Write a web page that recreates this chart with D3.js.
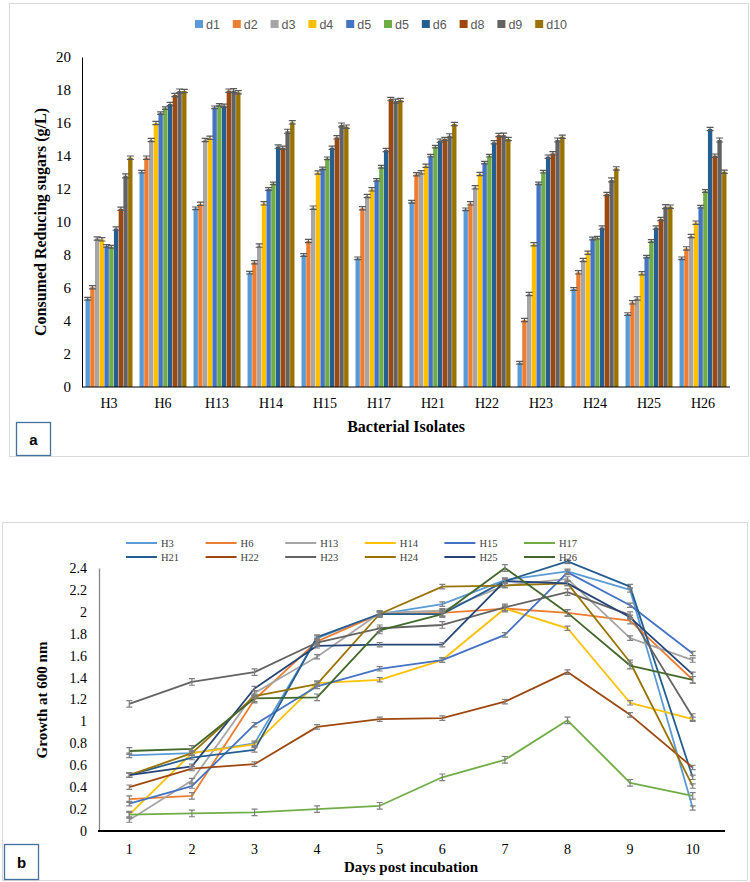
<!DOCTYPE html>
<html><head><meta charset="utf-8">
<script src="https://cdn.jsdelivr.net/npm/d3@7"></script>
<style>body{margin:0;background:#fff}svg{display:block}</style>
</head><body><svg id="c" width="750" height="882"></svg>
<script>
// ---------- Panel a data ----------
const isolatesA = ["H3","H6","H13","H14","H15","H17","H21","H22","H23","H24","H25","H26"];
const seriesNamesA = ["d1","d2","d3","d4","d5","d5","d6","d8","d9","d10"];
const seriesColorsA = ["#5B9BD5","#ED7D31","#A5A5A5","#FFC000","#4472C4","#70AD47","#255E91","#9E480E","#636363","#997300"];
const d1Vals  = [5.35,13.05,10.83,6.93,8.0,7.8,11.23,10.77,1.47,5.94,4.42,7.8];
const d2Vals  = [6.05,13.9,11.1,7.56,8.85,10.83,12.89,11.13,4.06,6.95,5.13,8.4];
const d3Vals  = [9.0,14.97,14.97,8.57,10.87,11.58,13.01,12.1,5.64,7.7,5.37,9.15];
const d4Vals  = [8.95,16.0,15.1,11.13,13.0,11.98,13.41,12.91,8.65,8.14,6.89,9.96];
const d5aVals = [8.55,16.6,16.95,12.0,13.25,12.55,14.02,13.6,12.34,9.0,7.9,10.93];
const d5bVals = [8.5,16.9,17.1,12.34,13.86,13.35,14.57,14.02,13.05,9.05,8.85,11.88];
const d6Vals  = [9.6,17.15,17.05,14.57,14.5,14.36,14.93,14.83,13.96,9.66,9.66,15.64];
const d8Vals  = [10.8,17.7,17.96,14.5,15.13,17.45,15.03,15.27,14.16,11.7,10.18,14.02];
const d9Vals  = [12.8,17.94,17.96,15.5,15.88,17.33,15.23,15.27,14.97,12.55,10.93,14.97];
const d10Vals = [13.9,17.94,17.86,16.04,15.78,17.39,15.94,15.03,15.17,13.25,10.93,13.05];
const errA = [0.08,0.1,0.1,0.1,0.08,0.08,0.1,0.1,0.12,0.1];
const yTicksA = [0,2,4,6,8,10,12,14,16,18,20];

// ---------- Panel b data ----------
const days = [1,2,3,4,5,6,7,8,9,10];
const isolatesB = ["H3","H6","H13","H14","H15","H17","H21","H22","H23","H24","H25","H26"];
const lineColorsB = ["#5B9BD5","#ED7D31","#A5A5A5","#FFC000","#4472C4","#70AD47","#255E91","#9E480E","#636363","#997300","#264478","#43682B"];
const gH3  = [0.69,0.71,0.80,1.76,1.98,2.07,2.29,2.37,2.20,0.21];
const gH6  = [0.29,0.32,1.20,1.73,1.98,1.99,2.03,1.99,1.92,1.38];
const gH13 = [0.10,0.46,1.26,1.59,1.99,2.01,2.24,2.30,1.76,1.56];
const gH14 = [0.15,0.71,0.79,1.35,1.38,1.56,2.03,1.85,1.17,1.02];
const gH15 = [0.25,0.41,0.97,1.32,1.48,1.56,1.79,2.36,2.06,1.62];
const gH17 = [0.15,0.16,0.17,0.20,0.23,0.49,0.65,1.01,0.44,0.32];
const gH21 = [0.51,0.67,0.74,1.77,1.98,1.98,2.28,2.46,2.23,0.49];
const gH22 = [0.40,0.57,0.61,0.95,1.02,1.03,1.18,1.45,1.06,0.58];
const gH23 = [1.16,1.36,1.45,1.72,1.85,1.88,2.04,2.18,1.97,1.04];
const gH24 = [0.51,0.71,1.23,1.34,1.98,2.23,2.24,2.26,1.54,0.41];
const gH25 = [0.51,0.59,1.30,1.69,1.70,1.70,2.28,2.26,1.95,1.43];
const gH26 = [0.73,0.75,1.21,1.22,1.83,1.98,2.40,1.99,1.51,1.38];
const errB = [0.02,0.03,0.02,0.02,0.02,0.03,0.02,0.02,0.03,0.02,0.02,0.03];
const yTicksB = [0,0.2,0.4,0.6,0.8,1,1.2,1.4,1.6,1.8,2,2.2,2.4];

const svg = d3.select("#c");
const serif = "Liberation Serif, Times New Roman, serif";
const sans = "Liberation Sans, Arial, sans-serif";

// ================= PANEL A =================
svg.append("rect").attr("x",9.5).attr("y",3.5).attr("width",739).attr("height",453)
  .attr("fill","#fff").attr("stroke","#d9d9d9");

const seriesA = [d1Vals,d2Vals,d3Vals,d4Vals,d5aVals,d5bVals,d6Vals,d8Vals,d9Vals,d10Vals];
const x0 = d3.scaleBand().domain(isolatesA).range([82,730]).paddingInner(0.13).paddingOuter(0.065);
const x1 = d3.scaleBand().domain(d3.range(seriesA.length)).range([0,x0.bandwidth()]).paddingInner(0.08);
const yA = d3.scaleLinear().domain([0,20]).range([387,57]);

const gA = svg.append("g");
seriesA.forEach((vals,si)=>{
  const g = gA.append("g");
  g.selectAll("rect").data(vals).join("rect")
    .attr("x",(v,i)=>x0(isolatesA[i])+x1(si))
    .attr("y",v=>yA(v)).attr("width",x1.bandwidth())
    .attr("height",v=>yA(0)-yA(v)).attr("fill",seriesColorsA[si]);
});
seriesA.forEach((vals,si)=>{
  const e = errA[si];
  vals.forEach((v,i)=>{
    const cx = x0(isolatesA[i])+x1(si)+x1.bandwidth()/2;
    const p = d3.path();
    p.moveTo(cx,yA(v+e)); p.lineTo(cx,yA(v-e));
    p.moveTo(cx-3.5,yA(v+e)); p.lineTo(cx+3.5,yA(v+e));
    p.moveTo(cx-3.5,yA(v-e)); p.lineTo(cx+3.5,yA(v-e));
    gA.append("path").attr("d",p.toString()).attr("stroke","#595959").attr("stroke-width",1.2).attr("fill","none");
  });
});

const axYA = d3.axisLeft(yA).tickValues(yTicksA).tickSize(0).tickPadding(11).tickFormat(d3.format("d"));
const gyA = svg.append("g").attr("transform","translate(82,0)").call(axYA);
gyA.select(".domain").attr("stroke","#000");
gyA.selectAll("text").attr("font-family",serif).attr("font-size",15).attr("fill","#000");

const axXA = d3.axisBottom(x0).tickSize(0).tickPadding(11);
const gxA = svg.append("g").attr("transform","translate(0,387)").call(axXA);
gxA.select(".domain").attr("stroke","#000").attr("d","M82,0H730");
gxA.selectAll("text").attr("font-family",serif).attr("font-size",14).attr("fill","#000");

svg.append("text").attr("transform","translate(46,222) rotate(-90)").attr("text-anchor","middle")
  .attr("font-family",serif).attr("font-weight","bold").attr("font-size",16).text("Consumed Reducing sugars (g/L)");
svg.append("text").attr("x",406).attr("y",432).attr("text-anchor","middle")
  .attr("font-family",serif).attr("font-weight","bold").attr("font-size",16).text("Bacterial Isolates");

// legend a
const legA = svg.append("g");
seriesNamesA.forEach((n,i)=>{
  const lx = 195 + i*37.8;
  legA.append("rect").attr("x",lx).attr("y",20).attr("width",8).attr("height",8).attr("fill",seriesColorsA[i]);
  legA.append("text").attr("x",lx+11).attr("y",28.5).attr("font-family",sans).attr("font-size",12.5)
    .attr("fill","#595959").text(n);
});

svg.append("rect").attr("x",16.5).attr("y",422.5).attr("width",34).attr("height",33)
  .attr("fill","#fff").attr("stroke","#41719C").attr("stroke-width",1.3);
svg.append("text").attr("x",33.5).attr("y",445).attr("text-anchor","middle").attr("font-family",sans)
  .attr("font-weight","bold").attr("font-size",15).text("a");

// ================= PANEL B =================
svg.append("rect").attr("x",2.5).attr("y",522.5).attr("width",745).attr("height",358)
  .attr("fill","#fff").attr("stroke","#d9d9d9");

const seriesB = [gH3,gH6,gH13,gH14,gH15,gH17,gH21,gH22,gH23,gH24,gH25,gH26];
const xB = d3.scaleBand().domain(days).range([98,724]);
const yB = d3.scaleLinear().domain([0,2.4]).range([831,568]);
const cxB = d => xB(d)+xB.bandwidth()/2;

const axYB = d3.axisLeft(yB).tickValues(yTicksB).tickSize(0).tickPadding(12).tickFormat(d=>d3.format("")(+d.toFixed(1)));
const gyB = svg.append("g").attr("transform","translate(99,0)").call(axYB);
gyB.select(".domain").attr("stroke","#868686").attr("stroke-width",1.3);
gyB.selectAll("text").attr("font-family",serif).attr("font-size",14).attr("fill","#000");

const gB = svg.append("g");
const lineGen = d3.line().x((v,i)=>cxB(days[i])).y(v=>yB(v));
seriesB.forEach((vals,si)=>{
  gB.append("path").datum(vals).attr("d",lineGen).attr("fill","none")
    .attr("stroke",lineColorsB[si]).attr("stroke-width",1.8).attr("stroke-linejoin","round");
});
seriesB.forEach((vals,si)=>{
  const e = errB[si];
  vals.forEach((v,i)=>{
    const cx = cxB(days[i]);
    const p = d3.path();
    p.moveTo(cx,yB(v+e)); p.lineTo(cx,yB(v-e));
    p.moveTo(cx-3,yB(v+e)); p.lineTo(cx+3,yB(v+e));
    p.moveTo(cx-3,yB(v-e)); p.lineTo(cx+3,yB(v-e));
    gB.append("path").attr("d",p.toString()).attr("stroke","#7f7f7f").attr("stroke-width",1.2).attr("fill","none");
  });
});

const axXB = d3.axisBottom(xB).tickSize(0).tickPadding(13);
const gxB = svg.append("g").attr("transform","translate(0,831)").call(axXB);
gxB.select(".domain").attr("stroke","#000").attr("stroke-width",2).attr("d","M98,0H725");
gxB.selectAll("text").attr("font-family",serif).attr("font-size",14).attr("fill","#000");

svg.append("text").attr("transform","translate(47,700) rotate(-90)").attr("text-anchor","middle")
  .attr("font-family",serif).attr("font-weight","bold").attr("font-size",15).text("Growth at 600 nm");
svg.append("text").attr("x",411).attr("y",872).attr("text-anchor","middle")
  .attr("font-family",serif).attr("font-weight","bold").attr("font-size",15).text("Days post incubation");

// legend b
const legB = svg.append("g");
isolatesB.forEach((n,i)=>{
  const col = i%6, row = Math.floor(i/6);
  const lx = 126 + col*79.6, ly = 543 + row*14;
  legB.append("line").attr("x1",lx).attr("x2",lx+31).attr("y1",ly).attr("y2",ly)
    .attr("stroke",lineColorsB[i]).attr("stroke-width",2);
  legB.append("text").attr("x",lx+35).attr("y",ly+3.5).attr("font-family",serif).attr("font-size",10.5)
    .attr("fill","#404040").text(n);
});

svg.append("rect").attr("x",4.5).attr("y",844.5).attr("width",34).attr("height",35)
  .attr("fill","#fff").attr("stroke","#41719C").attr("stroke-width",1.3);
svg.append("text").attr("x",21.5).attr("y",868).attr("text-anchor","middle").attr("font-family",sans)
  .attr("font-weight","bold").attr("font-size",15).text("b");
</script></body></html>
